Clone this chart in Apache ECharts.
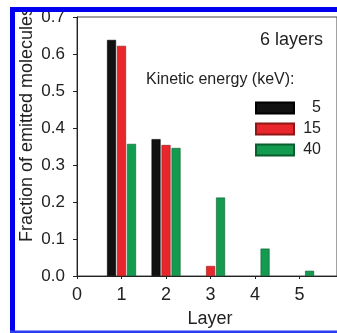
<!DOCTYPE html>
<html>
<head>
<meta charset="utf-8">
<script src="https://cdn.jsdelivr.net/npm/echarts@6/dist/echarts.min.js"></script>
<style>html,body{margin:0;padding:0;background:#fff;}#c{width:337px;height:333px;}</style>
</head>
<body>
<div id="c"></div>
<script>
var layers = [1, 2, 3, 4, 5];
var seriesNames = ['5', '15', '40'];
var ke5 = [0.638, 0.370, 0, 0, 0];
var ke15 = [0.622, 0.354, 0.027, 0, 0];
var ke40 = [0.357, 0.346, 0.212, 0.074, 0.014];
var xMin = 0, xMax = 5.84;
var yTicks = [0.0, 0.1, 0.2, 0.3, 0.4, 0.5, 0.6, 0.7];
var panelTitle = '6 layers';
var legendTitle = 'Kinetic energy (keV):';

var FONT = '"Liberation Sans", Arial, sans-serif';
var colors = ['#111111', '#e8262b', '#139b4f'];
var borders = ['#000000', '#8e1717', '#0b5c2e'];

function pts(vals) {
  return layers.map(function (l, i) { return [l, vals[i] === 0 ? '-' : vals[i]]; });
}
var allVals = [ke5, ke15, ke40];

var chart = echarts.init(document.getElementById('c'));
chart.setOption({
  animation: false,
  backgroundColor: '#fff',
  grid: { left: 77, top: 17, bottom: 50, right: 0, show: true, borderColor: '#444', borderWidth: 1, containLabel: false },
  xAxis: {
    type: 'value', min: xMin, max: xMax, interval: 1,
    name: 'Layer', nameLocation: 'middle', nameGap: 34, nameMoveOverlap: false,
    nameTextStyle: { fontFamily: FONT, fontSize: 18, color: '#222', padding: [0, 0, 0, 6] },
    axisLine: { show: true, lineStyle: { color: '#222', width: 1 } },
    axisTick: { show: true, length: 3, lineStyle: { color: '#222' } },
    axisLabel: { fontFamily: FONT, fontSize: 18, color: '#222', margin: 10, showMaxLabel: false },
    splitLine: { show: false }
  },
  yAxis: {
    type: 'value', min: yTicks[0], max: yTicks[yTicks.length - 1], interval: 0.1,
    name: 'Fraction of emitted molecules', nameLocation: 'middle', nameGap: 41, nameRotate: 90, nameMoveOverlap: false,
    nameTextStyle: { fontFamily: FONT, fontSize: 18, color: '#222', padding: [0, 0, 0, 44] },
    axisLine: { show: true, lineStyle: { color: '#222', width: 1 } },
    axisTick: { show: true, length: 4, lineStyle: { color: '#222' } },
    axisLabel: { fontFamily: FONT, fontSize: 17, color: '#222', margin: 12,
      formatter: function (v) { return v.toFixed(1); } },
    splitLine: { show: false }
  },
  legend: {
    orient: 'vertical', left: 250, top: 95, itemWidth: 38, itemHeight: 11, itemGap: 5,
    icon: 'rect', data: seriesNames,
    formatter: function (n) { return '{a|' + n + '}'; },
    textStyle: { fontFamily: FONT, fontSize: 16, color: '#222', lineHeight: 16,
      rich: { a: { width: 22, align: 'right', lineHeight: 16, fontSize: 16, fontFamily: FONT, color: '#222' } } }
  },
  series: seriesNames.map(function (n, k) {
    return {
      name: n, type: 'bar', barWidth: 9, barGap: '11%',
      data: pts(allVals[k]),
      itemStyle: { color: colors[k], borderColor: borders[k], borderWidth: 0.6 }
    };
  }),
  graphic: [
    { type: 'text', x: 323, y: 40, style: { text: panelTitle, font: '18px ' + FONT, fill: '#222', textAlign: 'right', textVerticalAlign: 'middle' }, z: 10 },
    { type: 'text', x: 146, y: 80, style: { text: legendTitle, font: '16px ' + FONT, fill: '#222', textAlign: 'left', textVerticalAlign: 'middle' }, z: 10 },
    { type: 'rect', shape: { x: 0, y: 0, width: 10, height: 333 }, style: { fill: '#fff' }, z: 100 },
    { type: 'rect', shape: { x: 0, y: 0, width: 337, height: 7 }, style: { fill: '#fff' }, z: 100 },
    { type: 'rect', shape: { x: 10, y: 7, width: 5, height: 326 }, style: { fill: '#0000ee' }, z: 101 },
    { type: 'rect', shape: { x: 10, y: 7, width: 327, height: 5 }, style: { fill: '#0000ee' }, z: 101 },
    { type: 'rect', shape: { x: 10, y: 330.5, width: 327, height: 2.5 }, style: { fill: '#2a3cf0' }, z: 101 }
  ]
});
</script>
</body>
</html>
